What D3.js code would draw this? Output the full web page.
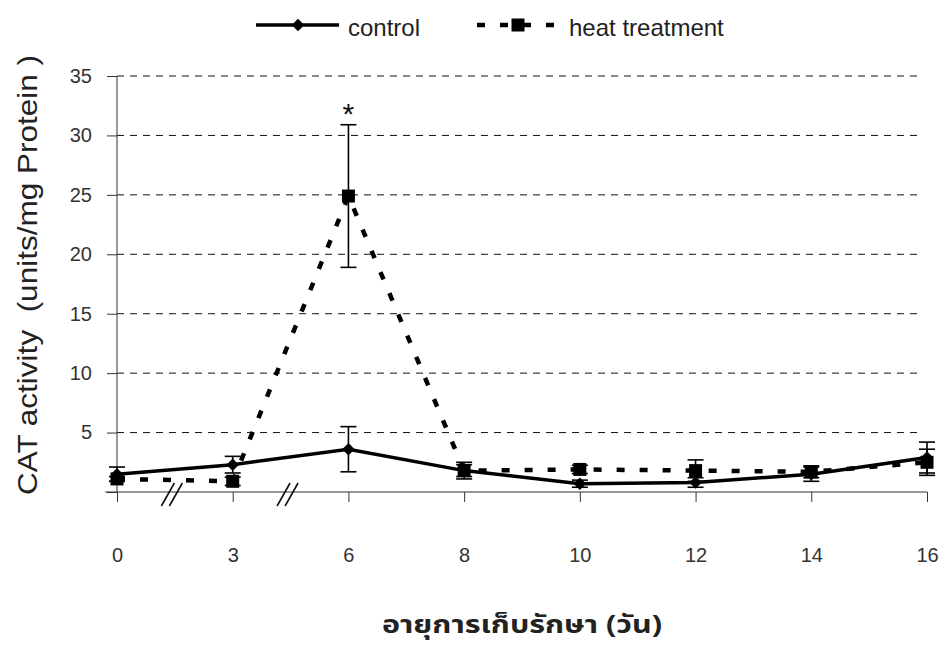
<!DOCTYPE html>
<html>
<head>
<meta charset="utf-8">
<script src="https://cdn.jsdelivr.net/npm/d3@7"></script>
<style>
  html, body { margin: 0; padding: 0; background: #ffffff; }
  svg { display: block; }
  text { font-family: "Liberation Sans", Arial, Helvetica, sans-serif; }
</style>
</head>
<body>
<svg id="chart" width="942" height="655"></svg>
<script>
// ---- data ----
const days = ["0", "3", "6", "8", "10", "12", "14", "16"];
const controlValues = [1.5, 2.3, 3.6, 1.8, 0.7, 0.8, 1.5, 2.9];
const controlErrors = [0.6, 0.7, 1.9, 0.7, 0.3, 0.4, 0.6, 1.3];
const heatValues = [1.1, 0.9, 24.9, 1.8, 1.9, 1.8, 1.7, 2.5];
const heatErrors = [0.2, 0.35, 6.0, 0.5, 0.35, 0.9, 0.5, 1.1];
const yTicks = [0, 5, 10, 15, 20, 25, 30, 35];
const breakAfter = ["0", "3"]; // axis break marks between these and the next day
const significant = [{ day: "6", series: "heat", label: "*" }];
const seriesNames = ["control", "heat treatment"];
const yTitle = "CAT activity  (units/mg Protein )";
const xTitle = "อายุการเก็บรักษา (วัน)";

// ---- layout ----
const svg = d3.select("#chart");
const x = d3.scalePoint().domain(days).range([117, 927]);
const y = d3.scaleLinear().domain([0, 35]).range([492, 76]);

const controlData = days.map((d, i) => ({ day: d, v: controlValues[i], e: controlErrors[i] }));
const heatData = days.map((d, i) => ({ day: d, v: heatValues[i], e: heatErrors[i] }));

// gridlines
svg.append("g").selectAll("line")
  .data(yTicks.filter(t => t > 0))
  .join("line")
  .attr("x1", x("0")).attr("x2", 922)
  .attr("y1", d => y(d)).attr("y2", d => y(d))
  .attr("stroke", "#111").attr("stroke-width", 1)
  .attr("stroke-dasharray", "7,6");

// y axis
const yAxis = svg.append("g")
  .attr("transform", `translate(${x("0")},0)`)
  .call(d3.axisLeft(y).tickValues(yTicks).tickSize(10).tickPadding(15)
    .tickFormat(d => d === 0 ? "" : d));
yAxis.select(".domain").attr("stroke", "#333").attr("d", `M0,${y(0)}V${y(35)}`);
yAxis.selectAll(".tick line").attr("stroke", "#333");
yAxis.selectAll(".tick text")
  .attr("font-size", 20).attr("fill", "#333")
  .attr("font-family", "'Liberation Sans', Arial, sans-serif");

// x axis
const xAxis = svg.append("g")
  .attr("transform", `translate(0,${y(0)})`)
  .call(d3.axisBottom(x).tickSize(10).tickPadding(46));
xAxis.select(".domain").attr("stroke", "#333").attr("d", `M105,0H${x("16")}`);
xAxis.selectAll(".tick line").attr("stroke", "#333");
xAxis.selectAll(".tick text")
  .attr("font-size", 20).attr("fill", "#333")
  .attr("font-family", "'Liberation Sans', Arial, sans-serif");

// axis break marks
const breaks = svg.append("g");
breakAfter.forEach(d => {
  const i = days.indexOf(d);
  const cx = (x(days[i]) + x(days[i + 1])) / 2 - 3;
  [-4, 4].forEach(off => {
    breaks.append("line")
      .attr("x1", cx + off - 6.5).attr("y1", y(0) + 14)
      .attr("x2", cx + off + 6.5).attr("y2", y(0) - 9)
      .attr("stroke", "#111").attr("stroke-width", 1.6);
  });
});

const line = d3.line().x(d => x(d.day)).y(d => y(d.v));

// heat treatment dashed line
svg.append("path").datum(heatData)
  .attr("d", line).attr("fill", "none")
  .attr("stroke", "#000").attr("stroke-width", 4.5)
  .attr("stroke-dasharray", "8,15");

// control solid line
svg.append("path").datum(controlData)
  .attr("d", line).attr("fill", "none")
  .attr("stroke", "#000").attr("stroke-width", 3.5);

// error bars
function errorBars(data) {
  const g = svg.append("g").attr("stroke", "#000").attr("stroke-width", 1.6);
  data.forEach(d => {
    const cx = x(d.day);
    g.append("line").attr("x1", cx).attr("x2", cx).attr("y1", y(d.v - d.e)).attr("y2", y(d.v + d.e));
    g.append("line").attr("x1", cx - 8).attr("x2", cx + 8).attr("y1", y(d.v + d.e)).attr("y2", y(d.v + d.e));
    g.append("line").attr("x1", cx - 8).attr("x2", cx + 8).attr("y1", y(d.v - d.e)).attr("y2", y(d.v - d.e));
  });
}
errorBars(heatData);
errorBars(controlData);

// markers
const diamond = d3.symbol().type(d3.symbolDiamond2).size(100);
const square = d3.symbol().type(d3.symbolSquare).size(169);
svg.append("g").selectAll("path").data(heatData).join("path")
  .attr("d", square).attr("transform", d => `translate(${x(d.day)},${y(d.v)})`)
  .attr("fill", "#000");
svg.append("g").selectAll("path").data(controlData).join("path")
  .attr("d", diamond).attr("transform", d => `translate(${x(d.day)},${y(d.v)})`)
  .attr("fill", "#000");

// significance marks
significant.forEach(s => {
  const data = s.series === "heat" ? heatData : controlData;
  const d = data.find(p => p.day === s.day);
  svg.append("text")
    .attr("x", x(d.day)).attr("y", y(d.v + d.e) - 1)
    .attr("text-anchor", "middle").attr("font-size", 30).attr("fill", "#111")
    .text(s.label);
});

// legend
const leg = svg.append("g");
leg.append("line").attr("x1", 256).attr("x2", 339).attr("y1", 25).attr("y2", 25)
  .attr("stroke", "#000").attr("stroke-width", 3.5);
leg.append("path").attr("d", diamond).attr("transform", "translate(298,25)").attr("fill", "#000");
leg.append("text").attr("x", 348).attr("y", 36).attr("font-size", 24).attr("fill", "#222").text(seriesNames[0]);
leg.append("line").attr("x1", 477).attr("x2", 557).attr("y1", 25).attr("y2", 25)
  .attr("stroke", "#000").attr("stroke-width", 4.5).attr("stroke-dasharray", "8,15");
leg.append("path").attr("d", square).attr("transform", "translate(518,25)").attr("fill", "#000");
leg.append("text").attr("x", 569).attr("y", 36).attr("font-size", 24).attr("fill", "#222").text(seriesNames[1]);

// y title
svg.append("text")
  .attr("transform", "translate(37,275) rotate(-90)")
  .attr("text-anchor", "middle").attr("font-size", 28).attr("fill", "#222")
  .attr("xml:space", "preserve")
  .attr("textLength", 440).attr("lengthAdjust", "spacingAndGlyphs")
  .text(yTitle);

// x title
svg.append("text")
  .attr("x", 522).attr("y", 633)
  .attr("text-anchor", "middle").attr("font-size", 25).attr("font-weight", "bold")
  .attr("fill", "#222")
  .style("font-family", "'Noto Sans Thai', 'Noto Sans', 'DejaVu Sans', sans-serif")
  .attr("textLength", 280).attr("lengthAdjust", "spacingAndGlyphs")
  .text(xTitle);
</script>
</body>
</html>
